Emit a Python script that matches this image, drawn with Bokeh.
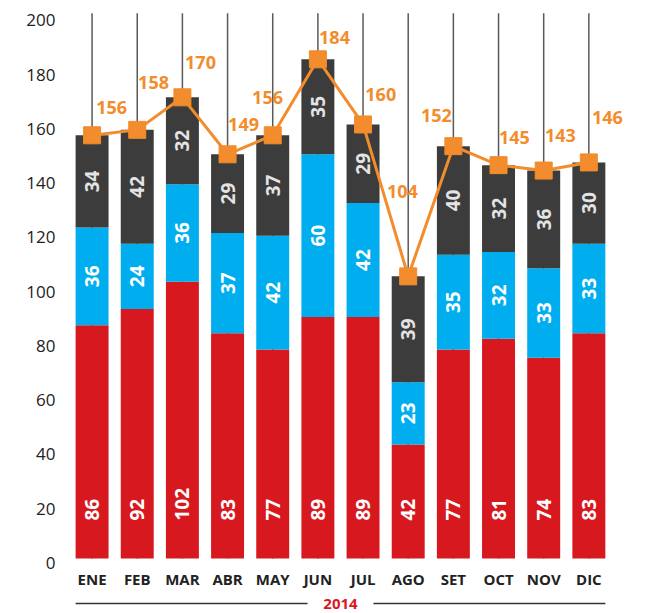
import math
from bokeh.plotting import figure
from bokeh.models import Range1d, LinearAxis, FixedTicker
from bokeh.core.properties import value
from bokeh.embed import file_html
from bokeh.resources import INLINE

# ---------------- data ----------------
months = ["ENE", "FEB", "MAR", "ABR", "MAY", "JUN", "JUL", "AGO", "SET", "OCT", "NOV", "DIC"]
red_vals = [86, 92, 102, 83, 77, 89, 89, 42, 77, 81, 74, 83]
blue_vals = [36, 24, 36, 37, 42, 60, 42, 23, 35, 32, 33, 33]
dark_vals = [34, 42, 32, 29, 37, 35, 29, 39, 40, 32, 36, 30]
line_vals = [156, 158, 170, 149, 156, 184, 160, 104, 152, 145, 143, 146]
year_label = "2014"
y_ticks = [0, 20, 40, 60, 80, 100, 120, 140, 160, 180, 200]

# label placement offsets in pixels (right, up) relative to each marker
lab_dx = [19.5, 16.3, 18.1, 16.0, -5.2, 16.6, 17.7, -5.8, -17.0, 15.8, 16.7, 18.5]
lab_dy = [27.8, 47.3, 34.8, 29.8, 37.8, 21.8, 30.0, 84.8, 30.6, 27.6, 35.0, 45.0]

# ---------------- styles ----------------
RED = "#D7191F"
BLUE = "#00AEEF"
DARK = "#3C3C3C"
ORANGE = "#F28C2C"
FONT = "Open Sans"

X0, X1 = -0.5, 11.9
Y0, Y1 = -20.27, 202.0
px_x = 45.18
px_y = 2.713
FRAME_W = int(round((X1 - X0) * px_x))
FRAME_H = int(round((Y1 - Y0) * px_y))
BAR_W = 0.73

p = figure(frame_width=FRAME_W, frame_height=FRAME_H,
           x_range=Range1d(X0, X1), y_range=Range1d(Y0, Y1),
           output_backend="svg", toolbar_location=None,
           x_axis_location=None, y_axis_location=None,
           min_border_left=69, min_border_right=10,
           min_border_top=10, min_border_bottom=0)
p.outline_line_color = None
p.xgrid.visible = False
p.ygrid.visible = False
p.background_fill_color = "white"
p.border_fill_color = "white"

# axis (labels sit slightly lower than bar scale, as in the reference)
shift = 1.6
p.extra_y_ranges = {"ax": Range1d(Y0 + shift, Y1 + shift)}
ax = LinearAxis(y_range_name="ax", ticker=FixedTicker(ticks=y_ticks))
ax.axis_line_color = None
ax.major_tick_line_color = None
ax.minor_tick_line_color = None
ax.major_label_standoff = 8
ax.major_label_text_font = FONT
ax.major_label_text_font_size = "17px"
ax.major_label_text_color = "#222222"
p.add_layout(ax, "left")

xs = list(range(len(months)))
red_top = red_vals
blue_top = [r + b for r, b in zip(red_vals, blue_vals)]
dark_top = [r + b + d for r, b, d in zip(red_vals, blue_vals, dark_vals)]

# vertical guide lines
p.segment(x0=xs, x1=xs, y0=[0] * len(xs), y1=[201] * len(xs),
          line_color="#5A5A5A", line_width=1.5)

# stacked bars
p.vbar(x=xs, width=BAR_W, bottom=0, top=red_top, fill_color=RED, line_color=None)
p.vbar(x=xs, width=BAR_W, bottom=red_top, top=blue_top, fill_color=BLUE, line_color=None)
p.vbar(x=xs, width=BAR_W, bottom=blue_top, top=dark_top, fill_color=DARK, line_color=None)

# inner labels
p.text(x=xs, y=[14] * len(xs), text=[str(v) for v in red_vals], angle=math.pi / 2,
       text_align="left", text_baseline="middle", text_color="white",
       text_font=value(FONT), text_font_style="bold", text_font_size="19px")
p.text(x=xs, y=[(a + b) / 2 for a, b in zip(red_top, blue_top)], text=[str(v) for v in blue_vals],
       angle=math.pi / 2, text_align="center", text_baseline="middle", text_color="white",
       text_font=value(FONT), text_font_style="bold", text_font_size="19px")
p.text(x=xs, y=[(a + b) / 2 for a, b in zip(blue_top, dark_top)], text=[str(v) for v in dark_vals],
       angle=math.pi / 2, text_align="center", text_baseline="middle", text_color="#E4E4E4",
       text_font=value(FONT), text_font_style="bold", text_font_size="19px")

# line + markers
p.line(x=xs, y=line_vals, line_color=ORANGE, line_width=3)
p.scatter(x=xs, y=line_vals, marker="square", size=17, fill_color=ORANGE, line_color=ORANGE)
p.text(x=[x + dx / px_x for x, dx in zip(xs, lab_dx)],
       y=[v + dy / px_y for v, dy in zip(line_vals, lab_dy)],
       text=[str(v) for v in line_vals], text_align="center", text_baseline="middle",
       text_color=ORANGE, text_font=value(FONT), text_font_style="bold", text_font_size="18px")

# month labels
p.text(x=xs, y=[-7.5] * len(xs), text=months, text_align="center", text_baseline="middle",
       text_color="#222222", text_font=value(FONT), text_font_style="bold", text_font_size="15px")

# year bracket
n = len(months)
mid = (n - 1) / 2
y_year = -16.6
p.segment(x0=[-BAR_W / 2, mid + 0.73], x1=[mid - 0.73, n - 1 + BAR_W / 2],
          y0=[y_year, y_year], y1=[y_year, y_year], line_color="#333333", line_width=1.5)
p.text(x=[mid], y=[y_year], text=[year_label], text_align="center", text_baseline="middle",
       text_color=RED, text_font=value(FONT), text_font_style="bold", text_font_size="15px")

open("out.html", "w").write(file_html(p, INLINE))
